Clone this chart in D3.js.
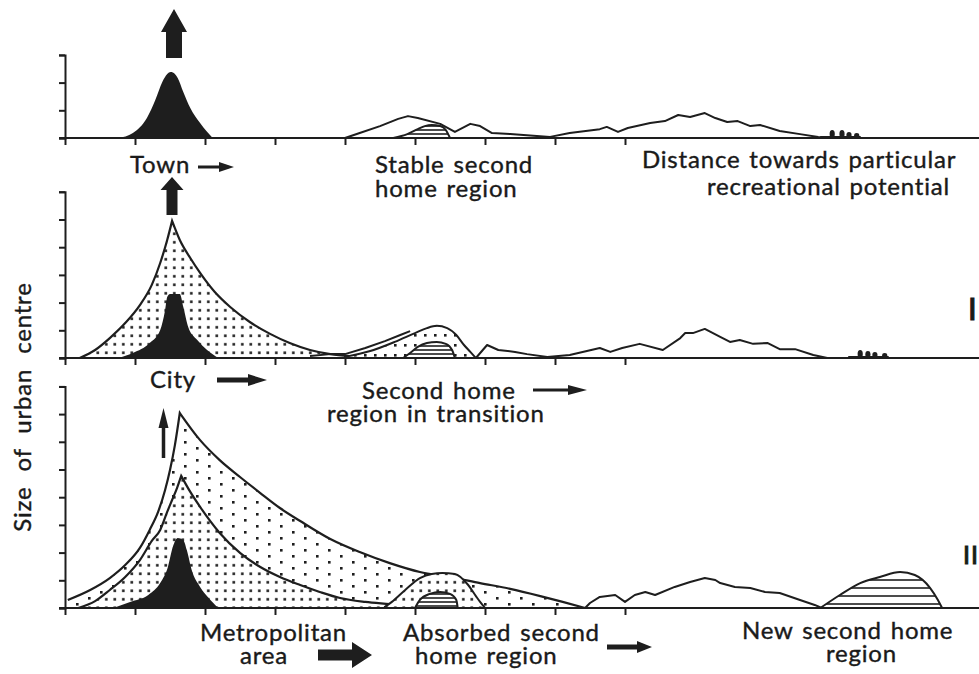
<!DOCTYPE html>
<html>
<head>
<meta charset="utf-8">
<script src="https://cdn.jsdelivr.net/npm/d3@7"></script>
<style>
  body { margin: 0; background: #fff; }
  text { font-family: Lato, "Open Sans", sans-serif; fill: #1a1a1a; }
</style>
</head>
<body>
<div id="chart"></div>
<script>
// ---- DATA (x = distance in tick units, y = size of urban centre in tick units) ----

// panel 1: town
const townCore = [[0.76,0],[0.97,0.18],[1.17,0.72],[1.29,1.37],[1.39,2.02],[1.46,2.31],[1.51,2.38],
  [1.57,2.31],[1.61,2.17],[1.69,1.66],[1.79,1.08],[1.93,0.54],[2.11,0]];
const landscape1 = [[4.0,0],[4.21,0.18],[4.5,0.43],[4.76,0.69],[4.9,0.79],[5.04,0.72],[5.36,0.51],
  [5.57,0.22],[5.79,0.51],[5.93,0.43],[6.1,0.18],[6.36,0.14],[6.93,0.04],[7.21,0.18],[7.64,0.32],
  [7.74,0.4],[7.9,0.22],[8.04,0.36],[8.36,0.54],[8.57,0.61],[8.76,0.83],[8.93,0.76],[9.14,0.9],
  [9.29,0.72],[9.46,0.58],[9.61,0.61],[9.79,0.43],[9.93,0.47],[10.21,0.25],[10.5,0.14],[10.76,0.04],[10.93,0]];
const stableMound = [[4.69,0],[4.89,0.14],[5.04,0.32],[5.14,0.43],[5.24,0.47],[5.36,0.43],[5.44,0.29],[5.5,0]];
const figures1 = [[10.96,0.29],[11.1,0.29],[11.2,0.22],[11.31,0.18]];

// panel 2: city
const cityOuterLeft = [[0.21,0],[0.43,0.29],[0.64,0.72],[0.86,1.26],[1.07,1.91],[1.24,2.64],[1.36,3.43],[1.46,4.26],[1.53,4.95]];
const cityOuterRight = [[1.53,4.95],[1.64,4.26],[1.79,3.61],[1.93,3.07],[2.14,2.38],[2.36,1.84],[2.64,1.3],
  [2.93,0.87],[3.21,0.54],[3.5,0.29],[3.79,0.14],[4.07,0.07],[4.36,0.04],[4.64,0]];
const cityCore = [[0.76,0],[0.97,0.18],[1.21,0.54],[1.36,1.01],[1.43,1.73],[1.46,2.2],[1.5,2.31],
  [1.64,2.31],[1.69,1.84],[1.76,1.12],[1.89,0.65],[2.03,0.29],[2.19,0]];
const landscape2a = [[3.5,0.07],[3.79,0.14],[4.0,0.14],[4.29,0.36],[4.57,0.61],[4.79,0.83],[4.93,0.97]];
const transitionMound = [[4.0,0.04],[4.36,0.25],[4.71,0.58],[5.0,0.9],[5.17,1.08],[5.31,1.16],[5.46,1.08],
  [5.59,0.83],[5.7,0.47],[5.79,0.22],[5.87,0]];
const transitionInner = [[4.83,0],[4.93,0.18],[5.04,0.4],[5.17,0.54],[5.31,0.58],[5.44,0.51],[5.53,0.29],[5.57,0]];
const landscape2b = [[5.87,0],[6.03,0.47],[6.19,0.29],[6.43,0.22],[6.6,0.14],[6.89,0.04],[7.21,0.11],
  [7.64,0.36],[7.79,0.22],[7.96,0.36],[8.21,0.51],[8.54,0.29],[8.79,0.72],[8.86,0.9],[8.97,0.9],
  [9.14,1.05],[9.36,0.76],[9.5,0.58],[9.64,0.65],[9.83,0.51],[10.04,0.54],[10.21,0.32],[10.43,0.32],
  [10.69,0.11],[10.89,0]];
const figures2 = [[11.36,0.29],[11.47,0.25],[11.57,0.22],[11.71,0.18]];

// panel 3: metropolitan area
const metroOuterLeft = [[0.04,0.29],[0.36,0.65],[0.64,1.08],[0.86,1.55],[1.07,2.17],[1.21,2.82],
  [1.33,3.47],[1.43,4.26],[1.5,4.98],[1.57,5.88],[1.64,7.04]];
const metroOuterRight = [[1.64,7.04],[1.93,6.06],[2.21,5.34],[2.5,4.73],[2.79,4.15],[3.07,3.61],
  [3.36,3.14],[3.79,2.49],[4.21,2.02],[4.64,1.62],[5.07,1.3],[5.5,1.12],[5.93,0.9],[6.36,0.69],
  [6.79,0.43],[7.11,0.22],[7.43,0]];
const metroMidLeft = [[0.19,0],[0.43,0.25],[0.64,0.65],[0.86,1.12],[1.07,1.73],[1.24,2.42],[1.36,2.82],
  [1.46,3.47],[1.53,3.9],[1.6,4.33],[1.66,4.77]];
const metroMidRight = [[1.66,4.77],[1.79,4.19],[1.93,3.65],[2.21,2.71],[2.5,1.99],[2.79,1.48],[3.07,1.12],
  [3.36,0.83],[3.64,0.58],[3.93,0.36],[4.29,0.22],[4.64,0.14],[4.93,0.07],[5.21,0]];
const absorbedMound = [[4.57,0.04],[4.67,0.22],[4.86,0.65],[5.07,1.08],[5.24,1.23],[5.39,1.26],[5.57,1.23],
  [5.76,0.83],[5.87,0.43],[5.93,0.22],[6.0,0]];
const metroCore = [[0.69,0],[0.93,0.22],[1.19,0.47],[1.36,0.9],[1.47,1.48],[1.54,2.2],[1.61,2.53],
  [1.69,2.45],[1.74,2.09],[1.81,1.37],[1.93,0.76],[2.04,0.4],[2.19,0]];
const absorbedInner = [[5.0,0],[5.07,0.29],[5.21,0.51],[5.36,0.58],[5.5,0.51],[5.59,0.29],[5.61,0]];
const landscape3 = [[7.43,0],[7.5,0.18],[7.64,0.4],[7.86,0.47],[8.0,0.22],[8.14,0.47],[8.29,0.58],
  [8.43,0.47],[8.71,0.76],[8.93,0.94],[9.14,1.08],[9.29,1.01],[9.36,0.9],[9.57,0.76],[9.79,0.72],
  [10.0,0.58],[10.21,0.54],[10.5,0.29],[10.71,0.11],[10.81,0]];
const newMound = [[10.79,0],[11.07,0.47],[11.36,0.9],[11.64,1.12],[11.93,1.3],[12.14,1.19],[12.36,0.72],[12.47,0.29],[12.53,0]];

const xTicks = [0,1,2,3,4,5,6,7,8];
const yTickCounts = [3, 6, 8];

// text blocks: lines, left x of each line, baselines
const labels = [
  [["Town"], [130], [173]],
  [["Stable second", "home region"], [375, 375], [173, 197]],
  [["Distance towards particular", "recreational potential"], [642, 707], [168, 195]],
  [["City"], [150], [388]],
  [["Second home", "region in transition"], [362, 327], [399, 422]],
  [["Metropolitan", "area"], [200, 240], [641, 664]],
  [["Absorbed second", "home region"], [403, 415], [641, 664]],
  [["New second home", "region"], [742, 826], [639, 662]]
];

// ---- LAYOUT ----
const width = 979, height = 674;
const ink = "#1e1e1e";
const unit = 27.7;
const bases = [138, 358, 608];

const svg = d3.select("#chart").append("svg")
  .attr("width", width).attr("height", height);

const x = d3.scaleLinear().domain([0, 13]).range([65, 975]);
const ys = bases.map((b, i) => d3.scaleLinear().domain([0, yTickCounts[i]]).range([b, b - yTickCounts[i] * unit]));

// patterns
const defs = svg.append("defs");
function dotPattern(id, w, h, pts, r) {
  const p = defs.append("pattern").attr("id", id).attr("patternUnits", "userSpaceOnUse")
    .attr("width", w).attr("height", h);
  p.append("rect").attr("width", w).attr("height", h).attr("fill", "#fff");
  pts.forEach(d => p.append("rect").attr("x", d[0]).attr("y", d[1]).attr("width", r).attr("height", r).attr("fill", ink));
}
dotPattern("dense", 8.5, 8.5, [[3, 3]], 2.6);
dotPattern("sparse", 24, 12, [[4, 3], [16, 9]], 2.6);
dotPattern("medium", 10, 10, [[4, 4]], 2.6);
function hatchPattern(id, step) {
  const p = defs.append("pattern").attr("id", id).attr("patternUnits", "userSpaceOnUse")
    .attr("width", 20).attr("height", step);
  p.append("rect").attr("width", 20).attr("height", step).attr("fill", "#fff");
  p.append("line").attr("x1", 0).attr("x2", 20).attr("y1", step / 2).attr("y2", step / 2)
    .attr("stroke", ink).attr("stroke-width", 1.6);
}
hatchPattern("hatch", 4);
hatchPattern("hatchWide", 8);

// helpers
function lineGen(y, curve) {
  return d3.line().x(d => x(d[0])).y(d => y(d[1])).curve(curve || d3.curveLinear);
}
function areaGen(y, curve) {
  return d3.area().x(d => x(d[0])).y0(y(0)).y1(d => y(d[1])).curve(curve || d3.curveLinear);
}
function cusp(g, y, left, right, fill) {
  const l = lineGen(y, d3.curveMonotoneX);
  const top = l(left) + l(right).replace(/^M/, "L");
  const last = right[right.length - 1], first = left[0];
  g.append("path").attr("d", top + `L${x(last[0])},${y(0)}L${x(first[0])},${y(0)}Z`)
    .attr("fill", fill).attr("stroke", "none");
  g.append("path").attr("d", top).attr("fill", "none").attr("stroke", ink).attr("stroke-width", 2.2);
}
function blob(g, y, data, fill, curve, stroke) {
  g.append("path").datum(data).attr("d", areaGen(y, curve || d3.curveMonotoneX))
    .attr("fill", fill).attr("stroke", stroke ? ink : "none").attr("stroke-width", 2);
}
function profile(g, y, data) {
  g.append("path").datum(data).attr("d", lineGen(y))
    .attr("fill", "none").attr("stroke", ink).attr("stroke-width", 2).attr("stroke-linejoin", "round");
}
function figures(g, y, data) {
  g.selectAll("ellipse.fig").data(data).join("ellipse").attr("class", "fig")
    .attr("cx", d => x(d[0])).attr("cy", d => (y(0) + y(d[1])) / 2)
    .attr("rx", 2.6).attr("ry", d => (y(0) - y(d[1])) / 2).attr("fill", ink);
  g.append("line").attr("x1", x(data[0][0]) - 12).attr("x2", x(data[data.length - 1][0]) + 4)
    .attr("y1", y(0) - 1).attr("y2", y(0) - 1).attr("stroke", ink).attr("stroke-width", 2);
}

const panels = ys.map(() => svg.append("g"));

// ---- panel 1 ----
{
  const g = panels[0], y = ys[0];
  blob(g, y, townCore, ink);
  profile(g, y, landscape1);
  blob(g, y, stableMound, "url(#hatch)", d3.curveMonotoneX, true);
  figures(g, y, figures1);
}
// ---- panel 2 ----
{
  const g = panels[1], y = ys[1];
  cusp(g, y, cityOuterLeft, cityOuterRight, "url(#dense)");
  blob(g, y, cityCore, ink);
  profile(g, y, landscape2a);
  blob(g, y, transitionMound, "url(#medium)", d3.curveMonotoneX, true);
  blob(g, y, transitionInner, "url(#hatch)", d3.curveMonotoneX, true);
  profile(g, y, landscape2b);
  figures(g, y, figures2);
}
// ---- panel 3 ----
{
  const g = panels[2], y = ys[2];
  cusp(g, y, metroOuterLeft, metroOuterRight, "url(#sparse)");
  cusp(g, y, metroMidLeft, metroMidRight, "url(#dense)");
  blob(g, y, absorbedMound, "url(#dense)", d3.curveMonotoneX, true);
  blob(g, y, metroCore, ink);
  blob(g, y, absorbedInner, "url(#hatch)", d3.curveMonotoneX, true);
  profile(g, y, landscape3);
  blob(g, y, newMound, "url(#hatchWide)", d3.curveMonotoneX, true);
}

// axes
ys.forEach((y, i) => {
  const g = panels[i];
  g.append("g").attr("transform", `translate(${x(0)},0)`)
    .call(d3.axisLeft(y).tickValues(d3.range(0, yTickCounts[i] + 1)).tickSize(6).tickSizeOuter(6).tickFormat(""))
    .call(a => a.selectAll("path,line").attr("stroke", ink).attr("stroke-width", 2));
  g.append("line").attr("x1", x(0) - 6).attr("x2", width).attr("y1", y(0)).attr("y2", y(0))
    .attr("stroke", ink).attr("stroke-width", 2);
  g.append("g").attr("transform", `translate(0,${y(0)})`)
    .call(d3.axisBottom(x).tickValues(xTicks).tickSize(7).tickFormat(""))
    .call(a => a.select(".domain").remove())
    .call(a => a.selectAll("line").attr("stroke", ink).attr("stroke-width", 2));
});

// arrows
function upArrow(cx, yBottom, yHeadBase, yTip, shaftW, headW) {
  svg.append("path").attr("fill", ink).attr("d",
    `M${cx - shaftW / 2},${yBottom}V${yHeadBase}H${cx - headW / 2}L${cx},${yTip}L${cx + headW / 2},${yHeadBase}H${cx + shaftW / 2}V${yBottom}Z`);
}
function rightArrow(x0, xHeadBase, xTip, cy, shaftH, headH) {
  svg.append("path").attr("fill", ink).attr("d",
    `M${x0},${cy - shaftH / 2}H${xHeadBase}V${cy - headH / 2}L${xTip},${cy}L${xHeadBase},${cy + headH / 2}V${cy + shaftH / 2}H${x0}Z`);
}
upArrow(174, 58, 32, 9, 16, 26);
upArrow(172, 215, 190, 177, 11, 23);
upArrow(163.5, 458, 428, 408, 3.5, 10);
rightArrow(198, 219, 234, 167, 3, 10);
rightArrow(217, 248, 267, 380, 5, 12);
rightArrow(533, 568, 587, 390, 3, 10);
rightArrow(318, 352, 372, 655, 11, 26);
rightArrow(607, 637, 652, 647, 5, 12);

// labels
const textStyle = t => t.attr("font-size", 24).attr("letter-spacing", 0.8).attr("word-spacing", 2)
  .attr("stroke", "#1a1a1a").attr("stroke-width", 0.4);
labels.forEach(([lines, xs, ys0]) => {
  const t = svg.append("text").call(textStyle);
  lines.forEach((s, i) => t.append("tspan").attr("x", xs[i]).attr("y", ys0[i]).text(s));
});
svg.append("text").attr("x", 968).attr("y", 320).attr("font-size", 31)
  .attr("stroke", "#1a1a1a").attr("stroke-width", 1.2).text("I");
svg.append("text").attr("x", 963).attr("y", 564).attr("font-size", 25)
  .attr("stroke", "#1a1a1a").attr("stroke-width", 1).attr("letter-spacing", 1).text("II");
svg.append("text").attr("transform", "translate(31,407) rotate(-90)").attr("text-anchor", "middle")
  .call(textStyle).attr("font-size", 24).attr("word-spacing", 8).text("Size of urban centre");
</script>
</body>
</html>
